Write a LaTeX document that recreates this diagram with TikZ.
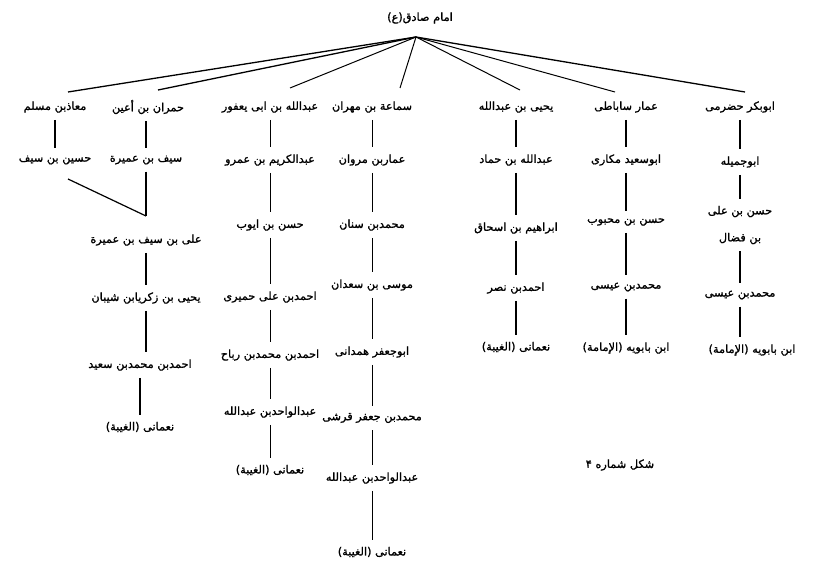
\documentclass[tikz,border=0pt]{standalone}
\usepackage{fontspec}
\newfontfamily\arabicfont[Script=Arabic, FakeBold=1.2]{DejaVu Sans}
\TeXXeTstate=1
\newcommand{\rtl}[1]{\beginR #1\endR}
\tikzset{
  pname/.style={font=\arabicfont\fontsize{11.3}{13}\selectfont, inner sep=1pt, text=black},
  thinln/.style={line width=0.8pt, shorten <=6pt, shorten >=6pt},
  medln/.style={line width=1.4pt, shorten <=6pt, shorten >=6pt},
  thickln/.style={line width=2.3pt, shorten <=6pt, shorten >=6pt},
  fanln/.style={line width=1pt},
}
\begin{document}
\begin{tikzpicture}[x=1pt,y=-1pt]
\useasboundingbox (0,0) rectangle (813,567);
% title
\node[pname] (top) at (420,18) {\rtl{امام صادق(ع)}};
\coordinate (apex) at (416,37);
% column 1
\node[pname] (a1) at (55,107) {\rtl{معاذبن مسلم}};
\node[pname] (a2) at (55,160) {\rtl{حسین بن سیف}};
% column 2
\node[pname] (b1) at (148,107) {\rtl{حمران بن أعین}};
\node[pname] (b2) at (146,160) {\rtl{سیف بن عمیرة}};
\coordinate (join) at (146,216);
\coordinate (dstart) at (68,179);
\node[pname] (b3) at (146,240) {\rtl{علی بن سیف بن عمیرة}};
\node[pname] (b4) at (146,298) {\rtl{یحیی بن زکریابن شیبان}};
\node[pname] (b5) at (140,365) {\rtl{احمدبن محمدبن سعید}};
\node[pname] (b6) at (140,427) {\rtl{نعمانی (الغیبة)}};
% column 3
\node[pname] (c1) at (270,107) {\rtl{عبدالله بن ابی یعفور}};
\node[pname] (c2) at (270,160) {\rtl{عبدالکریم بن عمرو}};
\node[pname] (c3) at (270,225) {\rtl{حسن بن ایوب}};
\node[pname] (c4) at (270,297) {\rtl{احمدبن علی حمیری}};
\node[pname] (c5) at (270,355) {\rtl{احمدبن محمدبن رباح}};
\node[pname] (c6) at (270,412) {\rtl{عبدالواحدبن عبدالله}};
\node[pname] (c7) at (270,470) {\rtl{نعمانی (الغیبة)}};
% column 4
\node[pname] (d1) at (372,107) {\rtl{سماعة بن مهران}};
\node[pname] (d2) at (372,160) {\rtl{عماربن مروان}};
\node[pname] (d3) at (372,225) {\rtl{محمدبن سنان}};
\node[pname] (d4) at (372,285) {\rtl{موسی بن سعدان}};
\node[pname] (d5) at (372,352) {\rtl{ابوجعفر همدانی}};
\node[pname] (d6) at (372,418) {\rtl{محمدبن جعفر قرشی}};
\node[pname] (d7) at (372,478) {\rtl{عبدالواحدبن عبدالله}};
\node[pname] (d8) at (372,552) {\rtl{نعمانی (الغیبة)}};
% column 5
\node[pname] (e1) at (516,107) {\rtl{یحیی بن عبدالله}};
\node[pname] (e2) at (516,160) {\rtl{عبدالله بن حماد}};
\node[pname] (e3) at (516,228) {\rtl{ابراهیم بن اسحاق}};
\node[pname] (e4) at (516,288) {\rtl{احمدبن نصر}};
\node[pname] (e5) at (516,347) {\rtl{نعمانی (الغیبة)}};
% column 6
\node[pname] (f1) at (626,107) {\rtl{عمار ساباطی}};
\node[pname] (f2) at (626,160) {\rtl{ابوسعید مکاری}};
\node[pname] (f3) at (626,222) {\rtl{حسن بن محبوب}};
\node[pname] (f4) at (626,287) {\rtl{محمدبن عیسی}};
\node[pname] (f5) at (626,348) {\rtl{ابن بابویه (الإمامة)}};
% column 7
\node[pname] (g1) at (740,107) {\rtl{ابوبکر حضرمی}};
\node[pname] (g2) at (740,162) {\rtl{ابوجمیله}};
\node[pname, align=center] (g3) at (740,225) {\rtl{حسن بن علی}\\[14pt]\rtl{بن فضال}};
\node[pname] (g4) at (740,295) {\rtl{محمدبن عیسی}};
\node[pname] (g5) at (752,350) {\rtl{ابن بابویه (الإمامة)}};
% caption
\node[pname] (cap) at (620,465) {\rtl{شکل شماره ۴}};
% fan
\coordinate (t1) at (68,92);
\coordinate (t2) at (158,90);
\coordinate (t3) at (290,88);
\coordinate (t4) at (400,88);
\coordinate (t5) at (520,90);
\coordinate (t6) at (615,92);
\coordinate (t7) at (745,92);
\foreach \t in {t1,t2,t7} \draw[line width=1.3pt] (apex) -- (\t);
\foreach \t in {t3,t4,t5,t6} \draw[fanln] (apex) -- (\t);
% column 1
\draw[medln] (a1) -- (a2);
\draw[line width=1.2pt] (dstart) -- (join);
% column 2
\draw[thickln] (b1.south -| b2.north) -- (b2.north);
\draw[thickln, shorten >=0pt] (b2) -- (join);
\draw[thickln] (b3) -- (b4);
\draw[thickln] (b4.south) -- (b4.south |- b5.north);
\draw[thickln] (b5) -- (b6);
% column 3
\draw[thinln] (c1) -- (c2);
\draw[thinln] (c2) -- (c3);
\draw[thinln] (c3) -- (c4);
\draw[thinln] (c4) -- (c5);
\draw[thinln] (c5) -- (c6);
\draw[thinln] (c6) -- (c7);
% column 4
\draw[thinln] (d1) -- (d2);
\draw[thinln] (d2) -- (d3);
\draw[thinln] (d3) -- (d4);
\draw[thinln] (d4) -- (d5);
\draw[thinln] (d5) -- (d6);
\draw[thinln] (d6) -- (d7);
\draw[thinln] (d7) -- (d8);
% column 5
\draw[medln] (e1) -- (e2);
\draw[medln] (e2) -- (e3);
\draw[medln] (e3) -- (e4);
\draw[medln] (e4) -- (e5);
% column 6
\draw[medln] (f1) -- (f2);
\draw[medln] (f2) -- (f3);
\draw[medln] (f3) -- (f4);
\draw[medln] (f4) -- (f5);
% column 7
\draw[medln] (g1) -- (g2);
\draw[medln] (g2) -- (g3);
\draw[medln] (g3) -- (g4);
\draw[medln] (g4.south) -- (g4.south |- g5.north);
\end{tikzpicture}
\end{document}
